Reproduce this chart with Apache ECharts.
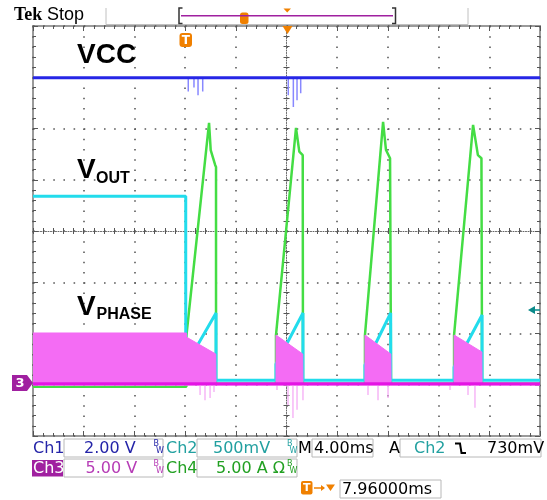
<!DOCTYPE html>
<html><head><meta charset="utf-8">
<script src="https://cdn.jsdelivr.net/npm/echarts@6/dist/echarts.min.js"></script>
<style>html,body{margin:0;padding:0;background:#fff}#c{width:547px;height:500px}</style>
</head><body><div id="c"></div>
<script>
// Time in ms relative to the trigger (4.00 ms/div, 10 div), values in screen divisions (8 div)
const vccTime = [-20, 20];
const vccDiv = [2.99, 2.99];
const vccSpikeTime = [-7.75, -7.3, -6.98, -6.61, 0.14, 0.54, 0.83, 1.12];
const vccSpikeLow = [2.72, 2.8, 2.65, 2.72, 2.65, 2.42, 2.55, 2.69];

const voutTime = [-20, -7.95, -7.95, -5.56, -5.56, -0.83, -0.83, 1.3, 1.3, 6.19, 6.19, 8.22, 8.22, 13.22, 13.22, 15.43, 15.43, 20];
const voutDiv  = [0.68, 0.68, -2.63, -1.6, -2.91, -2.91, -2.6, -1.6, -2.91, -2.91, -2.62, -1.6, -2.91, -2.91, -2.66, -1.64, -2.91, -2.91];

const ilTime = [-20, -7.9, -7.9, -6.11, -5.98, -5.63, -5.56, -5.56, -0.83, -0.83, 0.75, 1.01, 1.28, 1.3, 1.3, 6.19, 6.19, 7.62, 7.85, 8.17, 8.25, 8.25, 13.22, 13.22, 14.72, 15.1, 15.38, 15.43, 15.43, 20];
const ilDiv  = [-3.04, -3.04, -2.05, 2.11, 1.58, 1.29, 1.25, -2.98, -2.98, -2.03, 2.01, 1.55, 1.48, 1.45, -2.98, -2.98, -2.03, 2.13, 1.58, 1.42, 1.4, -2.98, -2.98, -2.03, 2.07, 1.48, 1.42, 1.4, -2.98, -2.98];

const phaseTime = [-20, -7.9, -7.9, -5.58, -5.56, -0.83, -0.83, 1.28, 1.3, 6.19, 6.19, 8.23, 8.25, 13.22, 13.22, 15.41, 15.43, 20];
const phaseTop  = [-1.99, -1.99, -2.07, -2.4, -2.98, -2.98, -2.03, -2.4, -2.98, -2.98, -2.03, -2.4, -2.98, -2.98, -2.03, -2.36, -2.98, -2.98];
const phaseBase = -2.98;
const phaseSpikeTime = [-6.82, -6.43, -6.03, -5.72, -0.75, 0.12, 0.51, 0.83, 1.3, 6.43, 7.22, 8.01, 12.9, 14.32, 14.87];
const phaseSpikeLow  = [-3.2, -3.3, -3.26, -3.14, -3.1, -3.4, -3.65, -3.49, -3.3, -3.2, -3.3, -3.26, -3.1, -3.2, -3.45];

const zip = (t, v) => t.map((x, i) => [x, v[i]]);
const spikes = (t, low, base) => t.flatMap((x, i) => [[x, base], [x, low[i]], [x, '-']]);

const chart = echarts.init(document.getElementById('c'), null, {renderer: 'canvas'});

const baseX = {type: 'value', min: -20, max: 20, interval: 4, silent: true,
  axisLabel: {show: false}, splitLine: {show: false}};
const baseY = {type: 'value', min: -4, max: 4, interval: 1, silent: true,
  axisLabel: {show: false}, splitLine: {show: false}};
const tk = (inside, len) => ({show: true, inside: inside, length: len, lineStyle: {color: '#555', width: 1}});
const mtk = (inside, len) => ({show: true, inside: inside, splitNumber: 5, length: len, lineStyle: {color: '#555', width: 1}});

const xAxis = [
  Object.assign({}, baseX, {position: 'bottom', axisLine: {show: false, onZero: false}, axisTick: tk(true, 5), minorTick: mtk(true, 3),
    splitLine: {show: true, lineStyle: {color: '#5a5a5a', width: 1.6, type: [1.6, 8.65]}}}),
  Object.assign({}, baseX, {position: 'top', axisLine: {show: false, onZero: false}, axisTick: tk(true, 5), minorTick: mtk(true, 3)}),
  Object.assign({}, baseX, {position: 'bottom', axisLine: {show: true, onZero: true, onZeroAxisIndex: 0, lineStyle: {color: '#666', width: 1, type: [1, 1.5]}},
    axisTick: tk(true, 3), minorTick: mtk(true, 3)}),
  Object.assign({}, baseX, {position: 'bottom', axisLine: {show: false, onZero: true, onZeroAxisIndex: 0},
    axisTick: tk(false, 3), minorTick: mtk(false, 3)})
];
const yAxis = [
  Object.assign({}, baseY, {position: 'left', axisLine: {show: false, onZero: false}, axisTick: tk(true, 5), minorTick: mtk(true, 3),
    splitLine: {show: true, lineStyle: {color: '#5a5a5a', width: 1.6, type: [1.6, 8.54]}}}),
  Object.assign({}, baseY, {position: 'right', axisLine: {show: false, onZero: false}, axisTick: tk(true, 5), minorTick: mtk(true, 3)}),
  Object.assign({}, baseY, {position: 'left', axisLine: {show: true, onZero: true, onZeroAxisIndex: 0, lineStyle: {color: '#666', width: 1, type: [1, 1.5]}},
    axisTick: tk(true, 3), minorTick: mtk(true, 3)}),
  Object.assign({}, baseY, {position: 'left', axisLine: {show: false, onZero: true, onZeroAxisIndex: 0},
    axisTick: tk(false, 3), minorTick: mtk(false, 3)})
];

function T(text, x, y, font, fill, align) {
  return {type: 'text', x: x, y: y, z: 100, silent: true,
    style: {text: text, font: font, fill: fill, align: align || 'left', verticalAlign: 'middle',
      textAlign: align || 'left', textVerticalAlign: 'middle'}};
}
function R(x, y, w, h, fill, stroke, r) {
  return {type: 'rect', z: 90, silent: true, shape: {x: x, y: y, width: w, height: h, r: r || 0},
    style: {fill: fill, stroke: stroke || null, lineWidth: 1}};
}
function PL(points, stroke, w) {
  return {type: 'polyline', z: 95, silent: true, shape: {points: points}, style: {stroke: stroke, lineWidth: w || 1, fill: null}};
}
function PG(points, fill) {
  return {type: 'polygon', z: 95, silent: true, shape: {points: points}, style: {fill: fill}};
}
function BW(x, y, color) {
  return [T('B', x, y - 4.5, '8px "DejaVu Sans"', color), T('W', x + 2.5, y + 2.5, '8px "DejaVu Sans"', color)];
}

const F = '16px "DejaVu Sans"';
const blue = '#2424a8', teal = '#22a0a0', purple = '#a020a0', mag = '#b63cb6', grn = '#22a022', org = '#f08000';

const graphic = [
  T('Tek', 14, 15, 'bold 18px "Liberation Serif"', '#000'),
  T('Stop', 47, 15, '18px "Liberation Sans"', '#000'),
  PL([[106, 8], [106, 24.5], [468, 24.5], [468, 8]], '#c0c0c0', 1),
  PL([[181, 15.7], [393, 15.7]], purple, 1.5),
  PL([[182.5, 8], [179, 8], [179, 23.5], [182.5, 23.5]], '#333', 1.5),
  PL([[392, 8], [395.5, 8], [395.5, 23.5], [392, 23.5]], '#333', 1.5),
  R(240, 12.5, 8.5, 11.5, org, null, 2.5),
  PG([[283.5, 8.5], [291, 8.5], [287.2, 12.5]], org),
  PG([[282.5, 26], [292.5, 26], [287.5, 34]], org),
  R(179.5, 33, 12.5, 14, org, null, 3),
  T('T', 185.8, 40.5, 'bold 12px "DejaVu Sans"', '#fff', 'center'),
  // channel labels
  T('VCC', 77, 55.5, 'bold 28px "Liberation Sans"', '#000'),
  T('V', 77, 170, 'bold 28px "Liberation Sans"', '#000'),
  T('OUT', 96, 178.5, 'bold 16px "Liberation Sans"', '#000'),
  T('V', 77, 307, 'bold 28px "Liberation Sans"', '#000'),
  T('PHASE', 96.5, 315, 'bold 16px "Liberation Sans"', '#000'),
  // ch3 ground marker
  PG([[12, 375], [27, 375], [33, 383], [27, 391], [12, 391]], purple),
  T('3', 20, 383.5, 'bold 13px "DejaVu Sans"', '#fff', 'center'),
  // trigger level arrow
  PG([[528, 310], [535, 306], [535, 314]], '#0a8a8a'),
  PL([[534, 310], [540, 310]], '#0a8a8a', 1.5),
  // readouts row 1
  T('Ch1', 33, 448.5, F, blue),
  R(64, 439, 99, 18, '#fff', '#b8b8b8'),
  T('2.00 V', 84, 448.5, F, blue),
  ...BW(153.5, 448.5, blue),
  T('Ch2', 166, 448.5, F, teal),
  R(197, 439, 100, 18, '#fff', '#b8b8b8'),
  T('500mV', 213, 448.5, F, teal),
  ...BW(287, 448.5, teal),
  T('M', 298, 448.5, F, '#000'),
  R(312, 439, 61, 18, '#fff', '#b8b8b8'),
  T('4.00ms', 314, 448.5, F, '#000'),
  T('A', 389, 448.5, F, '#000'),
  R(400, 439, 141, 18, '#fff', '#b8b8b8'),
  T('Ch2', 414, 448.5, F, teal),
  PL([[455, 443.5], [460, 443.5], [461.5, 453], [466, 453]], '#000', 2),
  T('730mV', 487, 448.5, F, '#000'),
  // row 2
  R(32, 460, 31, 16.5, purple, null),
  T('Ch3', 33, 468.5, F, '#fff'),
  R(64, 459, 99, 18, '#fff', '#b8b8b8'),
  T('5.00 V', 85.5, 468.5, F, mag),
  ...BW(153.5, 468.5, mag),
  T('Ch4', 166, 468.5, F, grn),
  R(197, 459, 100, 18, '#fff', '#b8b8b8'),
  T('5.00 A Ω', 216, 468.5, F, grn),
  ...BW(287, 468.5, grn),
  // row 3
  R(301, 481, 11.5, 13.5, org, null, 2),
  T('T', 306.8, 488, 'bold 11px "DejaVu Sans"', '#fff', 'center'),
  PL([[314, 488], [324, 488]], org, 1.5),
  PG([[321, 485], [325, 488], [321, 491]], org),
  PG([[326, 484.5], [335, 484.5], [330.5, 491]], org),
  R(340, 480, 101, 18, '#fff', '#b8b8b8'),
  T('7.96000ms', 342, 489.5, F, '#000')
];

chart.setOption({
  animation: false,
  backgroundColor: '#fff',
  grid: {left: 33, top: 26, width: 507, height: 410, show: true, borderColor: '#9a9a9a', borderWidth: 2,
    backgroundColor: 'transparent', outerBoundsMode: 'none', containLabel: false},
  xAxis: xAxis,
  yAxis: yAxis,
  graphic: graphic,
  series: [
    {name: 'Ch4', type: 'line', data: zip(ilTime, ilDiv), symbol: 'none', z: 3,
      lineStyle: {color: '#44dd44', width: 2.5}},
    {name: 'Ch2', type: 'line', data: zip(voutTime, voutDiv), symbol: 'none', z: 4,
      lineStyle: {color: '#22dcec', width: 3}},
    {name: 'Ch3band', type: 'line', data: zip(phaseTime, phaseTop), symbol: 'none', z: 5,
      lineStyle: {color: '#f46cf4', width: 1}, areaStyle: {color: '#f46cf4', opacity: 1, origin: -3.02}},
    {name: 'Ch3spikes', type: 'line', data: spikes(phaseSpikeTime, phaseSpikeLow, phaseBase), symbol: 'none', z: 5,
      lineStyle: {color: '#f4a4f4', width: 1.2}},
    {name: 'Ch3', type: 'line', data: zip([-20, 20], [phaseBase, phaseBase]), symbol: 'none', z: 6,
      lineStyle: {color: '#e414e4', width: 3}},
    {name: 'Ch1spikes', type: 'line', data: spikes(vccSpikeTime, vccSpikeLow, vccDiv[0]), symbol: 'none', z: 7,
      lineStyle: {color: '#8888ff', width: 1.5}},
    {name: 'Ch1', type: 'line', data: zip(vccTime, vccDiv), symbol: 'none', z: 8,
      lineStyle: {color: '#2626e6', width: 3}}
  ]
});
</script></body></html>
